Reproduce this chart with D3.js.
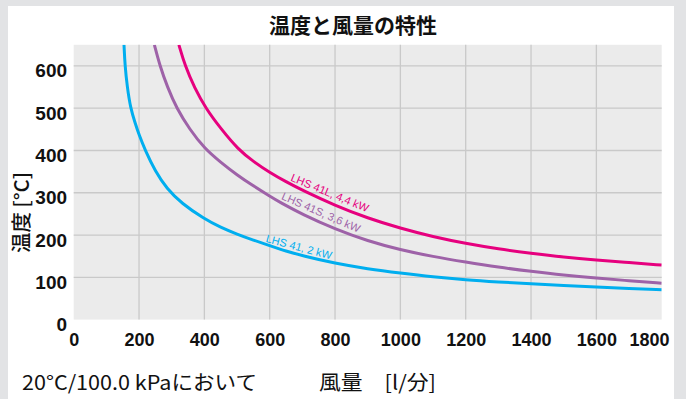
<!DOCTYPE html>
<html><head><meta charset="utf-8">
<script src="https://cdn.jsdelivr.net/npm/d3@7"></script>
<style>
html,body{margin:0;padding:0;background:#e2e3e5;}
svg{display:block;}
</style></head>
<body>
<svg id="chart" width="686" height="399"></svg>
<script>
// ---- data ----
const title = "温度と風量の特性";
const xTicks = [0, 200, 400, 600, 800, 1000, 1200, 1400, 1600, 1800];
const yTicks = [0, 100, 200, 300, 400, 500, 600];
const seriesNames = ["LHS 41, 2 kW", "LHS 41S, 3,6 kW", "LHS 41L, 4,4 kW"];
// flow [l/min] vs temperature [°C]
const flowBlue   = [154,157,164,174,188,200,218,250,285,330,400,450,500,550,600,650,700,800,900,1000,1100,1200,1300,1400,1500,1600,1700,1800];
const tempBlue   = [650,600,550,500,465,437,402,350,310,275,238,218,202,188,175,162,151,133,120,110,101,94,89,84.5,80.5,77,73.5,70.5];
const flowPurple = [247,264,287,315,355,400,450,500,550,600,632,700,800,900,1000,1100,1200,1300,1400,1500,1600,1700,1800];
const tempPurple = [650,600,550,500,450,405,372,342,316,292,277,249,214,186,165,149,136,124,114,105,98,92,86];
const flowPink   = [322,341,370,404,450,504,550,600,650,700,800,900,1000,1100,1200,1300,1400,1500,1600,1700,1800];
const tempPink   = [650,600,548,500,452,402,374,348,326,306,270,240,216,196,180,167,157,148,141,135,129];
// label anchors [flow, temp] and angle
const labelFlow  = [586, 634, 662];
const labelTemp  = [184, 285, 329];
const labelAngle = [15, 23.5, 22.5];
const xAxisTitle = "風量　[l/分]";
const yAxisTitle = "温度 [°C]";
const note = "20°C/100.0 kPaにおいて";

const colors = ["#00aeef", "#9e62a8", "#e6007e"];

// ---- layout ----
const svg = d3.select("#chart");
const L = 73.7, R = 661.7, T = 44.8, B = 319.6;
const x = d3.scaleLinear().domain([0, 1800]).range([L, R]);
const y = d3.scaleLinear().domain([0, 650]).range([B, T]);

svg.append("rect").attr("x", 8).attr("y", 6).attr("width", 666).attr("height", 400).attr("fill", "#ffffff");
svg.append("rect").attr("x", L).attr("y", T).attr("width", R - L).attr("height", B - T).attr("fill", "#ebebeb");

// grid
const g = svg.append("g");
g.selectAll("line.v").data(xTicks.filter(d => d > 0 && d < 1800)).join("line")
  .attr("x1", d => x(d)).attr("x2", d => x(d)).attr("y1", T).attr("y2", B)
  .attr("stroke", "#c9c9c9").attr("stroke-width", 1.3);
g.selectAll("line.h").data(yTicks.filter(d => d > 0)).join("line")
  .attr("x1", L).attr("x2", R).attr("y1", d => y(d)).attr("y2", d => y(d))
  .attr("stroke", "#c9c9c9").attr("stroke-width", 1.3);

// axes (labels only)
const xAxis = svg.append("g").attr("transform", `translate(0,${B})`)
  .call(d3.axisBottom(x).tickValues(xTicks).tickSize(0).tickPadding(0).tickFormat(d3.format("d")));
xAxis.select(".domain").remove();
xAxis.selectAll("text").attr("y", 26.4).attr("dy", null)
  .style("font-family", "'Liberation Sans', Arial, sans-serif").style("font-weight", "bold")
  .style("font-size", "18px").attr("fill", "#111");
xAxis.selectAll(".tick").filter(d => d === 1800).select("text").attr("text-anchor", "end").attr("x", 669 - x(1800));

const yAxis = svg.append("g").attr("transform", `translate(${L},0)`)
  .call(d3.axisLeft(y).tickValues(yTicks).tickSize(0).tickPadding(0).tickFormat(d3.format("d")));
yAxis.select(".domain").remove();
yAxis.selectAll("text").attr("x", 67 - L).attr("dy", null).attr("y", 11)
  .style("font-family", "'Liberation Sans', Arial, sans-serif").style("font-weight", "bold")
  .style("font-size", "19px").attr("fill", "#111");

// clip
svg.append("clipPath").attr("id", "clip").append("rect")
  .attr("x", L).attr("y", T).attr("width", R - L).attr("height", B - T);

const series = [
  {f: flowBlue, t: tempBlue},
  {f: flowPurple, t: tempPurple},
  {f: flowPink, t: tempPink}
];
const line = d3.line().x(d => x(d[0])).y(d => y(d[1])).curve(d3.curveBasis);
const lg = svg.append("g").attr("clip-path", "url(#clip)");
series.forEach((s, i) => {
  lg.append("path").datum(s.f.map((f, j) => [f, s.t[j]]))
    .attr("d", line).attr("fill", "none").attr("stroke", colors[i]).attr("stroke-width", 3);
});

// curve labels
seriesNames.forEach((n, i) => {
  svg.append("text")
    .attr("transform", `translate(${x(labelFlow[i])},${y(labelTemp[i])}) rotate(${labelAngle[i]})`)
    .attr("fill", colors[i])
    .style("font-family", "'Liberation Sans', Arial, sans-serif")
    .style("font-size", "11px")
    .text(n);
});

// title
svg.append("text").attr("x", 353).attr("y", 33).attr("text-anchor", "middle")
  .style("font-family", "'Noto Sans CJK JP', sans-serif").style("font-weight", "bold")
  .style("font-size", "21px").attr("fill", "#111").text(title);

// y axis title
svg.append("text").attr("transform", "translate(29,212.5) rotate(-90)").attr("text-anchor", "middle")
  .style("font-family", "'Noto Sans CJK JP', sans-serif").style("font-weight", "500")
  .style("font-size", "20px").attr("fill", "#111")
  .attr("textLength", 81).attr("lengthAdjust", "spacingAndGlyphs")
  .text(yAxisTitle);

// bottom texts
svg.append("text").attr("x", 22).attr("y", 390)
  .style("font-family", "'Noto Sans CJK JP', sans-serif")
  .style("font-size", "20px").attr("fill", "#111")
  .attr("textLength", 235).attr("lengthAdjust", "spacingAndGlyphs")
  .text(note);
svg.append("text").attr("x", 319).attr("y", 390)
  .style("font-family", "'Noto Sans CJK JP', sans-serif")
  .style("font-size", "20px").attr("fill", "#111")
  .attr("textLength", 117).attr("lengthAdjust", "spacingAndGlyphs")
  .text(xAxisTitle);
</script>
</body></html>
